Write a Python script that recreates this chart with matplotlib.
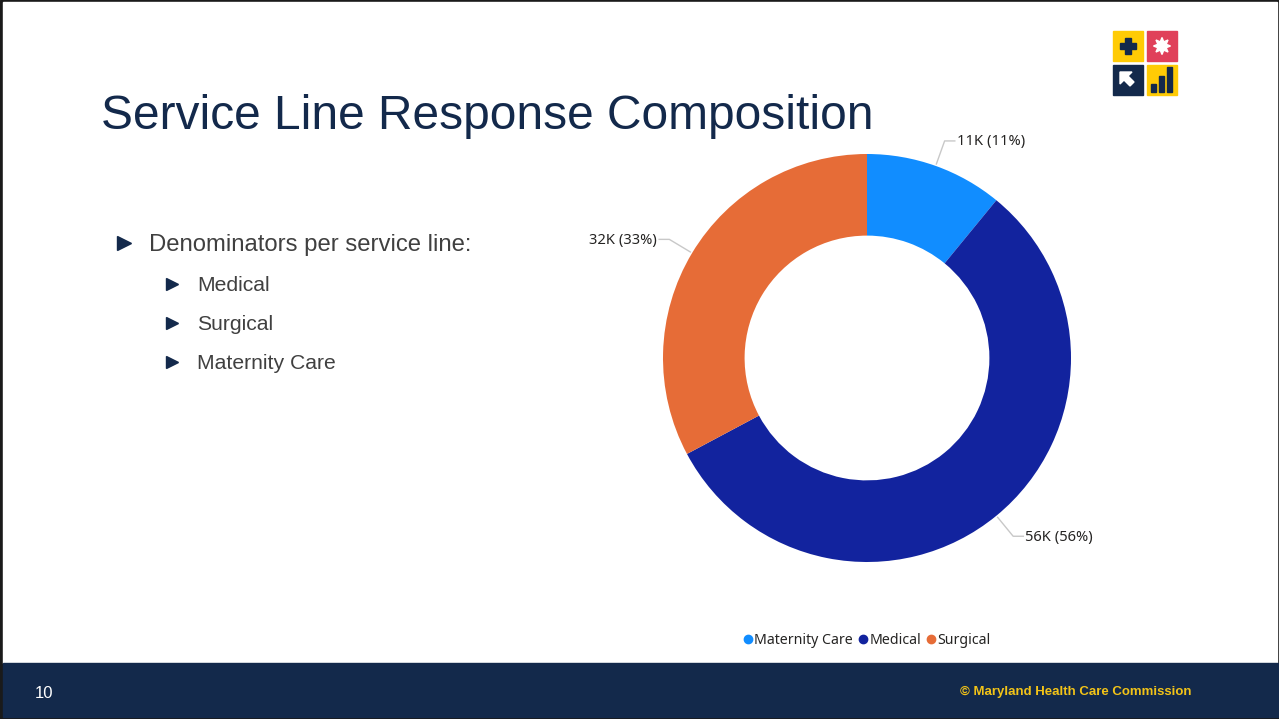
import numpy as np
import matplotlib
matplotlib.use("Agg")
import matplotlib.pyplot as plt
from matplotlib.patches import Rectangle, Polygon
from matplotlib.lines import Line2D

# service line denominators, thousands of responses
services = ["Maternity Care", "Medical", "Surgical"]
counts_k = [10.8, 55.6, 32.4]
colors = ["#118DFF", "#12239E", "#E66C37"]

title = "Service Line Response Composition"
bullet_head = "Denominators per service line:"
bullet_items = ["Medical", "Surgical", "Maternity Care"]
page_no = "10"
footer_note = "\u00a9 Maryland Health Care Commission"

NAVY = "#13294B"
GOLD = "#FFCB05"
W, H = 1279, 719

fig = plt.figure(figsize=(W / 100, H / 100), dpi=100)

# full-slide overlay in pixel units (y down)
bg = fig.add_axes([0, 0, 1, 1])
bg.set_xlim(0, W)
bg.set_ylim(H, 0)
bg.axis("off")
bg.add_patch(Rectangle((0, 0), W, H, color="#1a1a1a", zorder=0))
bg.add_patch(Rectangle((3, 2), 1274, 661, color="white", zorder=1))
bg.add_patch(Rectangle((3, 663), 1275, 54, color=NAVY, zorder=1))

# logo tiles
bg.add_patch(Rectangle((1113, 31), 30, 30, color=GOLD, zorder=2))
bg.add_patch(Rectangle((1147, 31), 30, 30, color="#E0405A", zorder=2))
bg.add_patch(Rectangle((1113, 65), 30, 30, color=NAVY, zorder=2))
bg.add_patch(Rectangle((1147, 65), 30, 30, color=GOLD, zorder=2))
# plus sign
bg.add_patch(Rectangle((1120, 43), 16, 6, color=NAVY, zorder=3))
bg.add_patch(Rectangle((1125, 38), 6, 16, color=NAVY, zorder=3))
# starburst
ang = np.linspace(0, 2 * np.pi, 17)[:-1]
rad = np.where(np.arange(16) % 2 == 0, 8.5, 4.5)
bg.add_patch(Polygon(np.c_[1162 + rad * np.cos(ang), 46 + rad * np.sin(ang)],
                     color="white", zorder=3))
# arrow pointing up-left
bg.add_patch(Polygon([(1120, 72), (1132, 72), (1128, 76), (1134, 82),
                      (1130, 86), (1124, 80), (1120, 84)], color="white", zorder=3))
# bar chart glyph
for bx, bh in [(1151, 8), (1159, 16), (1167, 25)]:
    bg.add_patch(Rectangle((bx, 92 - bh), 5, bh, color=NAVY, zorder=3))

# text content
bg.text(101, 129, title, fontsize=34.5, color=NAVY, family="Liberation Sans",
        va="baseline", ha="left", zorder=4)
bg.plot([124], [243], marker=">", ms=10, color=NAVY, zorder=4)
bg.text(149, 245, bullet_head, fontsize=17.2, color="#404040",
        family="Liberation Sans", va="center", ha="left", zorder=4)
for i, item in enumerate(bullet_items):
    y = 284 + 39 * i
    bg.plot([172], [y], marker=">", ms=9, color=NAVY, zorder=4)
    bg.text(197, y + 1.5, item, fontsize=15.2, color="#404040",
            family="Liberation Sans", va="center", ha="left", zorder=4)

bg.text(35, 693, page_no, fontsize=12, color="white", family="Liberation Sans",
        va="center", ha="left", zorder=4)
bg.text(1192, 692, footer_note, fontsize=9.5, color="#F2C318", weight="bold",
        family="Liberation Sans", va="center", ha="right", zorder=4)

# donut chart
cx, cy, R = 867, 358, 204
ax = fig.add_axes([(cx - R) / W, 1 - (cy + R) / H, 2 * R / W, 2 * R / H])
wedges, _ = ax.pie(counts_k, colors=colors, startangle=90, counterclock=False,
                   radius=1.0, wedgeprops=dict(width=0.4, linewidth=0))
ax.set_xlim(-1, 1)
ax.set_ylim(-1, 1)
ax.axis("off")

total = sum(counts_k)
for w, v in zip(wedges, counts_k):
    mid = np.deg2rad((w.theta1 + w.theta2) / 2)
    c, s = np.cos(mid), np.sin(mid)
    x0, y0 = 1.01 * c, 1.01 * s
    x1, y1 = 1.13 * c, 1.13 * s
    side = 1 if c >= 0 else -1
    x2 = x1 + side * 0.05
    ax.plot([x0, x1, x2], [y0, y1, y1], color="#C8C8C8", lw=1, clip_on=False)
    label = f"{round(v)}K ({round(100 * v / total)}%)"
    ax.text(x2 + side * 0.01, y1 - 0.005, label, fontsize=10.6, color="#252423",
            family="Noto Sans", va="center",
            ha="left" if side > 0 else "right", clip_on=False)

handles = [Line2D([], [], marker="o", ls="", ms=6, color=c) for c in colors]
fig.legend(handles, services, loc="center", bbox_to_anchor=(cx / W, 1 - 640 / H),
           ncol=3, frameon=False, handlelength=0.6, handletextpad=0.15,
           columnspacing=0.4, prop=dict(family="Noto Sans", size=10.2),
           labelcolor="#252423")

fig.savefig("out.png", dpi=100)
